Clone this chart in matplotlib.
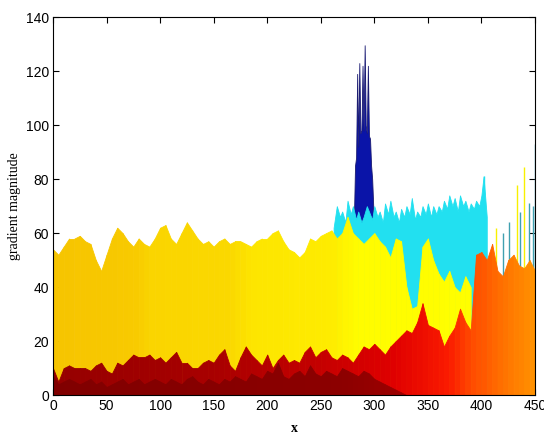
import matplotlib
matplotlib.use('Agg')
import matplotlib.pyplot as plt
from matplotlib.colors import LinearSegmentedColormap

# x positions every 5 units
x_pts = list(range(0, 455, 5))

# upper yellow layer, x = 0..390
yellow_top = [54, 52, 55, 58, 58, 59, 57, 56, 50, 46,
              52, 58, 62, 60, 57, 55, 58, 56, 55, 58,
              62, 63, 58, 56, 60, 64, 61, 58, 56, 57,
              55, 57, 58, 56, 57, 57, 56, 55, 57, 58,
              58, 60, 61, 57, 54, 53, 51, 53, 58, 57,
              59, 60, 61, 58, 60, 66, 60, 58, 56, 58,
              60, 57, 55, 51, 58, 57, 40, 32, 33, 55,
              58, 50, 45, 42, 46, 40, 38, 44, 40]

# red / orange layer, x = 0..450
warm_top = [10, 5, 10, 11, 10, 10, 10, 9, 11, 12,
            9, 8, 12, 11, 13, 15, 14, 14, 15, 13,
            14, 12, 14, 16, 12, 12, 10, 10, 12, 13,
            12, 15, 17, 11, 9, 14, 18, 15, 13, 11,
            15, 10, 13, 15, 12, 13, 12, 16, 18, 14,
            16, 17, 14, 13, 15, 14, 12, 15, 18, 17,
            19, 17, 15, 18, 20, 22, 24, 23, 27, 34,
            26, 25, 24, 18, 22, 25, 32, 27, 24, 52,
            53, 50, 56, 46, 44, 50, 52, 48, 47, 50, 46]

# dark red base, x = 0..330
dark_top = [7, 4, 5, 6, 5, 4, 5, 6, 4, 5,
            3, 4, 5, 6, 4, 5, 6, 4, 5, 6,
            5, 4, 6, 5, 4, 6, 7, 5, 4, 6,
            5, 4, 6, 5, 7, 6, 5, 8, 7, 6,
            9, 8, 12, 7, 6, 8, 9, 7, 11, 8,
            7, 9, 8, 7, 10, 9, 8, 7, 9, 8,
            6, 5, 4, 3, 2, 1, 0]

# cyan band
cyan_x = [262, 265, 268, 270, 273, 275, 278, 280, 283, 285, 288, 290, 293, 295,
          298, 300, 303, 305, 308, 310, 313, 315, 318, 320, 323, 325, 328, 330,
          333, 335, 338, 340, 343, 345, 348, 350, 353, 355, 358, 360, 363, 365,
          368, 370, 373, 375, 378, 380, 383, 385, 388, 390, 393, 395, 398, 400,
          402, 405]
cyan_top = [62, 70, 66, 68, 64, 72, 67, 70, 65, 68, 64, 66, 70, 68,
            65, 70, 66, 68, 64, 71, 67, 72, 66, 68, 64, 69, 66, 70,
            67, 73, 65, 68, 66, 70, 67, 71, 66, 70, 67, 70, 68, 72,
            69, 74, 70, 73, 68, 74, 70, 72, 68, 71, 69, 72, 70, 74,
            81, 66]

# blue spikes
blue_x = [281, 282, 283, 284, 285, 286, 287, 288, 289, 290,
          291, 292, 293, 294, 295, 296, 297, 298, 299]
blue_top = [66, 85, 88, 119, 92, 123, 97, 98, 122, 98,
            129.6, 100, 97, 122, 96, 95, 85, 80, 70]

# thin lines at the right edge
spike_x = [402, 414, 420, 426, 433, 436, 440, 444, 448, 450]
spike_top = [81, 62, 60, 64, 78, 68, 84.5, 71, 70, 93]
spike_col = ['#20e0f0', '#f8f000', '#40a0b0', '#40a0b0', '#f8f000',
             '#40a0b0', '#f8f000', '#40a0b0', '#40a0b0', '#3090b0']

yellow_cmap = LinearSegmentedColormap.from_list('yl', [
    (0.0, '#f6c400'), (0.17, '#f8ca00'), (0.2, '#fad500'), (0.37, '#fad800'),
    (0.41, '#fde500'), (0.58, '#feec00'), (0.63, '#fffc00'), (1.0, '#ffff00')])
warm_cmap = LinearSegmentedColormap.from_list('wm', [
    (0.0, '#950000'), (0.33, '#a80000'), (0.55, '#c40000'), (0.71, '#e00000'),
    (0.82, '#fa1a00'), (0.87, '#ff4a00'), (0.93, '#ff6e00'), (1.0, '#ff9200')])
dark_cmap = LinearSegmentedColormap.from_list('dk', [
    (0.0, '#800000'), (0.6, '#8c0000'), (0.75, '#a00000'), (1.0, '#c00000')])


def fill_grad(ax, xs, ys, cmap, z):
    for i in range(len(ys) - 1):
        c = cmap((xs[i] + xs[i + 1]) / 2 / 450)
        ax.fill_between(xs[i:i + 2], 0, ys[i:i + 2], color=c, ec=c, lw=0.6, zorder=z)


fig = plt.figure(figsize=(5.44, 4.40), dpi=100)
ax = fig.add_axes([0.0974, 0.102, 0.886, 0.859])

ax.fill_between(blue_x, 0, blue_top, color='#0a14a8', ec='#1a1a70', lw=0.6, zorder=1)
ax.fill_between(cyan_x, 0, cyan_top, color='#22e0f0', ec='#22e0f0', lw=0.6, zorder=2)
ax.vlines(spike_x, 0, spike_top, colors=spike_col, lw=1.0, zorder=2)
fill_grad(ax, x_pts[:len(yellow_top)], yellow_top, yellow_cmap, 3)
fill_grad(ax, x_pts, warm_top, warm_cmap, 4)
fill_grad(ax, x_pts[:len(dark_top)], dark_top, dark_cmap, 5)

ax.set_xlim(0, 450)
ax.set_ylim(0, 140)
ax.set_xticks(range(0, 451, 50))
ax.set_yticks(range(0, 141, 20))
ax.tick_params(direction='in', top=True, right=True, length=4, width=0.8,
               labelsize=10, pad=3)
for lab in ax.get_xticklabels() + ax.get_yticklabels():
    lab.set_family('Liberation Sans')
for sp in ax.spines.values():
    sp.set_linewidth(0.8)
    sp.set_zorder(10)

ax.set_xlabel('x', family='Liberation Serif', fontsize=10, fontweight='bold', labelpad=6)
ax.set_ylabel('gradient magnitude', family='Liberation Serif', fontsize=10, labelpad=3)

fig.savefig('out.png', dpi=100)
